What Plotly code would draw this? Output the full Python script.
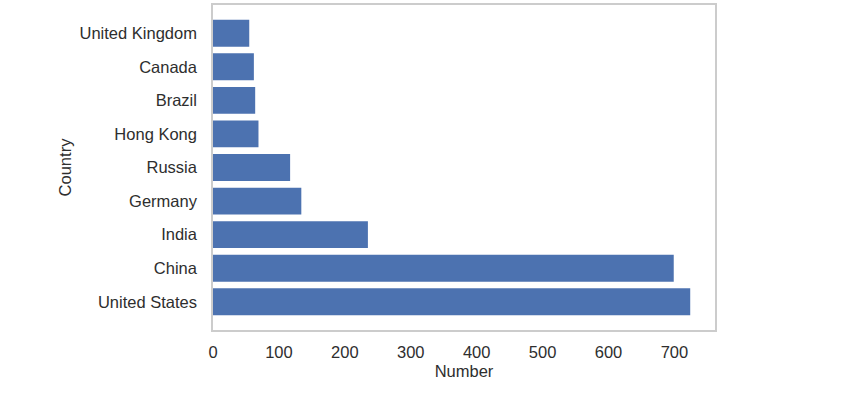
import plotly.graph_objects as go

countries = ["United States", "China", "India", "Germany", "Russia",
             "Hong Kong", "Brazil", "Canada", "United Kingdom"]
numbers = [724, 699, 235, 134, 117, 69, 64, 62, 55]
x_ticks = [0, 100, 200, 300, 400, 500, 600, 700]

fig = go.Figure(go.Bar(
    x=numbers, y=countries, orientation="h",
    marker=dict(color="#4C72B0", line=dict(width=0)),
    width=0.8,
))

font = dict(family="Liberation Sans, Arial, sans-serif", size=16.5, color="#2e2e2e")

fig.update_layout(
    width=850, height=404,
    margin=dict(l=213, r=135, t=5, b=74),
    paper_bgcolor="white", plot_bgcolor="white",
    font=font,
    showlegend=False,
    bargap=0.2,
)
fig.update_xaxes(
    range=[0, 761.6], tickvals=x_ticks, showgrid=False, zeroline=False,
    showline=True, mirror=True, linecolor="#cccccc", linewidth=1.5,
    ticks="outside", ticklen=6, tickcolor="rgba(0,0,0,0)",
    title=dict(text="Number", standoff=6, font=font),
    automargin=False,
)
fig.update_yaxes(
    range=[-0.84, 8.84], showgrid=False, zeroline=False,
    showline=True, mirror=True, linecolor="#cccccc", linewidth=1.5,
    ticks="outside", ticklen=11, tickcolor="rgba(0,0,0,0)",
    title=dict(text="Country", standoff=4, font=font),
    categoryorder="array", categoryarray=countries,
    automargin=False,
)

fig.write_html("out.html", config={"displayModeBar": False},
               post_script="document.body.style.margin='0';")
